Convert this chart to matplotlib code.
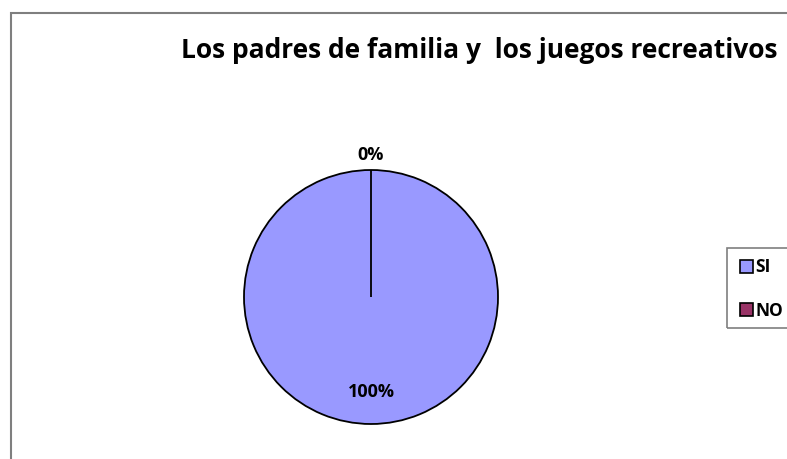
import numpy as np
import matplotlib.pyplot as plt
from matplotlib.patches import Rectangle, Patch

categories = ['SI', 'NO']
values = [100, 0]
colors = ['#9999FF', '#993366']
title = 'Los padres de familia y  los juegos recreativos'

W, H = 787, 459
fig = plt.figure(figsize=(W / 100, H / 100), dpi=100)
plt.rcParams['font.family'] = ['Open Sans', 'DejaVu Sans']

# chart frame, runs off the right and bottom edges
fig.patches.append(Rectangle((11 / W, -0.1), 1.2, (H - 13) / H + 0.1,
                             transform=fig.transFigure, fill=False,
                             edgecolor='#7f7f7f', linewidth=1.5))

fig.text(479 / W, 1 - 50 / H, title, ha='center', va='center',
         fontsize=19, fontweight='bold')

# pie: centre (371, 297), radius 127 px
r = 127
ax = fig.add_axes([(371 - r) / W, 1 - (297 + r) / H, 2 * r / W, 2 * r / H])
ax.axis('off')
wedges, _ = ax.pie(values, colors=colors, startangle=90, counterclock=False,
                   radius=1, wedgeprops=dict(edgecolor='black', linewidth=1.3))
ax.set_xlim(-1, 1)
ax.set_ylim(-1, 1)

total = sum(values)
dists = [0.75, 1.12]
for w, v, d in zip(wedges, values, dists):
    ang = np.deg2rad((w.theta1 + w.theta2) / 2)
    ax.text(d * np.cos(ang), d * np.sin(ang), '%d%%' % round(100 * v / total),
            ha='center', va='center', fontsize=13, fontweight='bold')

# legend
handles = [Patch(facecolor=c, edgecolor='black', linewidth=1.2) for c in colors]
fig.legend(handles, categories, loc='center left',
           bbox_to_anchor=(740 / W, 1 - 289 / H), frameon=False,
           prop=dict(weight='bold', size=12.5), handlelength=0.75,
           handleheight=0.75, handletextpad=0.15, labelspacing=1.45,
           borderpad=0, borderaxespad=0)
fig.patches.append(Rectangle((727 / W, 1 - 328 / H), 0.2, 80 / H,
                             transform=fig.transFigure, fill=False,
                             edgecolor='#7f7f7f', linewidth=1.2))

fig.savefig('out.png', dpi=100)
